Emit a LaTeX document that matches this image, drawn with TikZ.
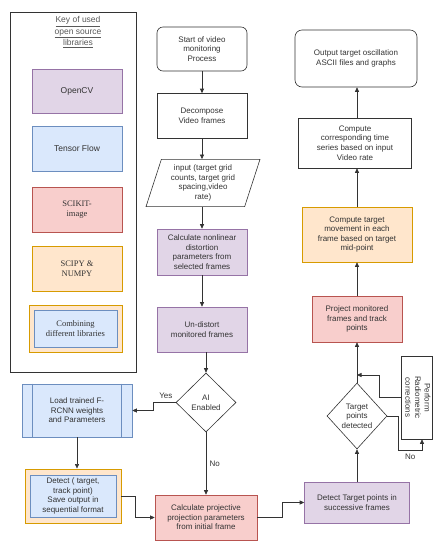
\documentclass[tikz,border=0pt]{standalone}
\usepackage{fontspec}
\setmainfont{Liberation Sans}
\newfontfamily\keyserif{Liberation Serif}
\usetikzlibrary{arrows.meta,positioning,shapes}
\definecolor{cvfill}{HTML}{E1D5E7}
\definecolor{cvline}{HTML}{9673A6}
\definecolor{tffill}{HTML}{DAE8FC}
\definecolor{tfline}{HTML}{6C8EBF}
\definecolor{skfill}{HTML}{F8CECC}
\definecolor{skline}{HTML}{B85450}
\definecolor{spfill}{HTML}{FFE6CC}
\definecolor{spline}{HTML}{D79B00}
\definecolor{ink}{HTML}{333333}

\begin{document}
\begin{tikzpicture}[x=1pt,y=-1pt,
  box/.style={draw=ink,line width=.6pt,rectangle,align=center,text=ink,inner sep=1pt,font=\fontsize{8}{9.6}\selectfont},
  opencv/.style={box,fill=cvfill,draw=cvline},
  tflow/.style={box,fill=tffill,draw=tfline},
  scikit/.style={box,fill=skfill,draw=skline},
  scipy/.style={box,fill=spfill,draw=spline,line width=.9pt},
  keyfont/.style={font=\keyserif\fontsize{8.5}{10}\selectfont},
  arr/.style={-{Triangle[length=4.5pt,width=4pt]},draw=ink,line width=.6pt},
  lbl/.style={text=ink,font=\fontsize{8}{9.6}\selectfont}]
\useasboundingbox (0,0) rectangle (442,550);
% key of libraries
\node[draw=ink,line width=.7pt,minimum width=126,minimum height=360] (key) at (73,192) {};
\node[text=black!65,align=center,font=\fontsize{8.5}{11.5}\selectfont] (keytitle) at (78,32) {\underline{Key of used}\\\underline{open source}\\\underline{libraries}};
\node[opencv,minimum width=90,minimum height=44,font=\fontsize{8.5}{10}\selectfont] (kcv) at (77,91) {OpenCV};
\node[tflow,minimum width=90,minimum height=45,font=\fontsize{8.5}{10}\selectfont] (ktf) at (77,148.5) {Tensor Flow};
\node[scikit,minimum width=90,minimum height=45,keyfont] (ksk) at (77,209.5) {SCIKIT-\\image};
\node[scipy,minimum width=90,minimum height=45,keyfont] (ksp) at (77,268.5) {SCIPY \&\\NUMPY};
\node[scipy,minimum width=93,minimum height=47] (kmixout) at (75.5,328.5) {};
\node[tflow,minimum width=83,minimum height=37,keyfont] (kmix) at (75.5,328.5) {Combining\\different libraries};
% middle column
\node[box,rounded corners=6pt,minimum width=90,minimum height=44] (start) at (202,49) {Start of video\\monitoring\\Process};
\node[box,minimum width=90,minimum height=45] (decomp) at (202,116) {Decompose\\Video frames};
\node[box,trapezium,trapezium left angle=72,trapezium right angle=108,minimum width=114,minimum height=44,inner sep=0pt] (input) at (203,183) {input (target grid\\counts, target grid\\spacing,video\\rate)};
\node[opencv,minimum width=90,minimum height=46] (distpar) at (202,252) {Calculate nonlinear\\distortion\\parameters from\\selected frames};
\node[opencv,minimum width=90,minimum height=45] (undist) at (202,329.5) {Un-distort\\monitored frames};
\node[box,diamond,minimum width=60,minimum height=59,inner sep=0pt] (ai) at (206,402.5) {AI\\Enabled};
\node[tflow,minimum width=110,minimum height=53] (load) at (77,410.5) {Load trained F-\\RCNN weights\\and Parameters};
\draw[draw=tfline,line width=.6pt] ([xshift=11pt]load.north west) -- ([xshift=11pt]load.south west);
\draw[draw=tfline,line width=.6pt] ([xshift=-11pt]load.north east) -- ([xshift=-11pt]load.south east);
\node[scipy,minimum width=96,minimum height=54] (detout) at (73,496) {};
\node[tflow,minimum width=86,minimum height=42] (detect) at (73,496) {Detect ( target,\\track point)\\Save output in\\sequential format};
\node[scikit,minimum width=102,minimum height=45] (calcproj) at (206,517.5) {Calculate projective\\projection parameters\\from initial frame};
% right column
\node[opencv,minimum width=105,minimum height=41] (dettgt) at (357,502.5) {Detect Target points in\\successive frames};
\node[box,diamond,minimum width=60,minimum height=66,inner sep=0pt] (tgtd) at (357,416) {Target\\points\\detected};
\node[box,minimum width=30,minimum height=83] (radio) at (417,397.5) {\rotatebox{-90}{\begin{tabular}{@{}c@{}}Perform\\Radiometric\\corrections\end{tabular}}};
\node[scikit,minimum width=90,minimum height=46] (proj) at (357,319) {Project monitored\\frames and track\\points};
\node[scipy,minimum width=110,minimum height=55,line width=.6pt] (move) at (357,234.5) {Compute target\\movement in each\\frame based on target\\mid-point};
\node[box,minimum width=113,minimum height=50] (timeser) at (355,143) {Compute\\corresponding time\\series based on input\\Video rate};
\node[box,rounded corners=7pt,minimum width=122,minimum height=57] (output) at (356,58.5) {Output target oscillation\\ASCII files and graphs};
\coordinate (merge) at (357,375);
% connectors
\draw[arr] (start) -- (decomp);
\draw[arr] (decomp) -- (decomp |- input.north);
\draw[arr] (input.south -| decomp) -- (distpar);
\draw[arr] (distpar) -- (undist);
\draw[arr] (undist.south -| ai) -- (ai);
\draw[arr] (ai.west) -- node[lbl,above,pos=.45]{Yes} ++(-22,0) |- (load.east);
\draw[arr] (ai) -- node[lbl,right]{No} (calcproj);
\draw[arr] (load.south -| 77,0) -- (detout.north -| 77,0);
\draw[arr] (detout.east) -- ++(14,0) |- (calcproj.west);
\draw[arr] (calcproj.east) -- ++(25,0) |- (dettgt.west);
\draw[arr] (dettgt) -- (tgtd);
\draw[arr] (tgtd) -- (proj);
\draw[arr] (tgtd.east) -- ++(11,0) -- ++(0,34) -| node[lbl,below,pos=.25]{No} ([xshift=5pt]radio.south);
\draw[arr] (radio.west) -- ++(-22,0) |- (merge);
\draw[arr] (proj) -- (move);
\draw[arr] (move) -- (move.north |- timeser.south);
\draw[arr] (timeser.north -| move) -- (move |- output.south);
\end{tikzpicture}
\end{document}
